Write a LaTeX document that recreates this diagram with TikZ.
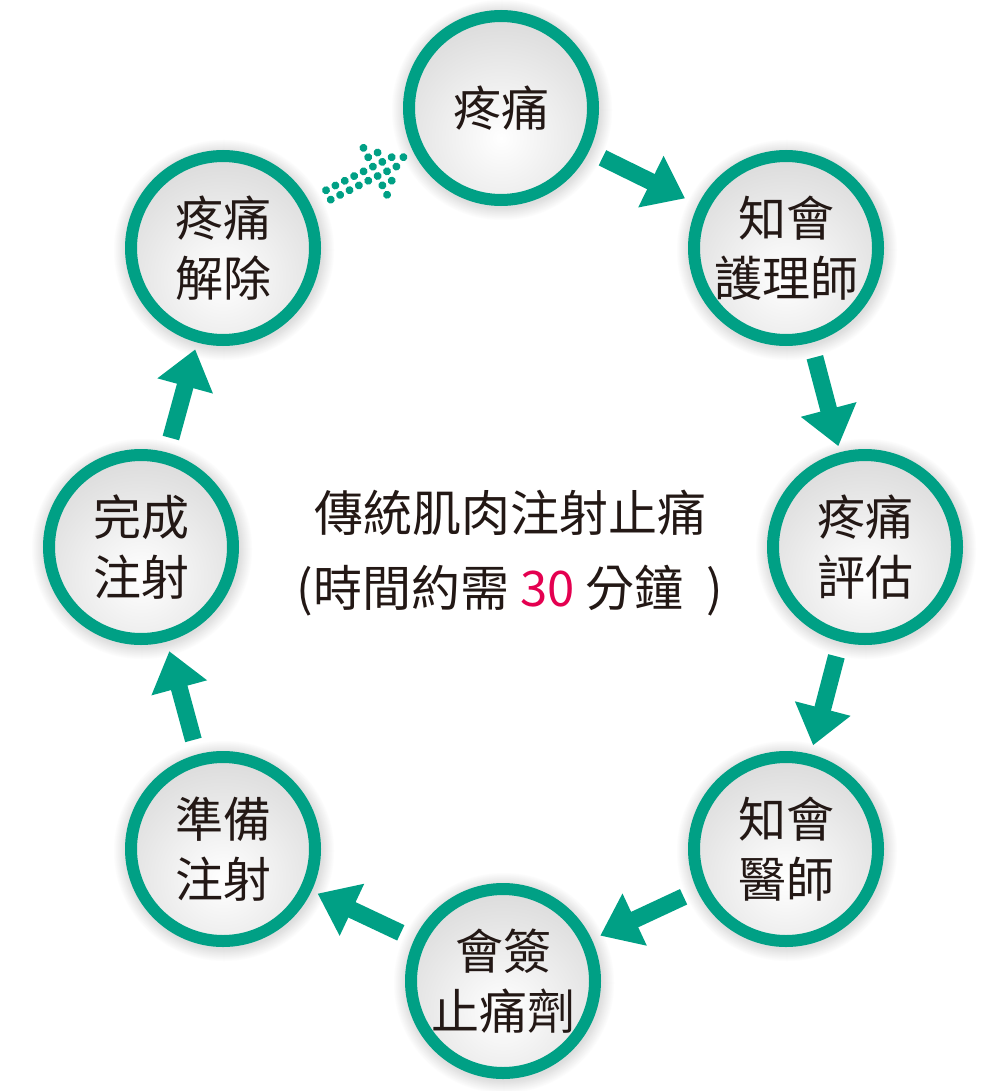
\documentclass[tikz,border=0pt]{standalone}
\usepackage{fontspec}
\setmainfont{Noto Sans CJK TC}
\usetikzlibrary{arrows.meta,calc}
\definecolor{ringgreen}{RGB}{0,160,133}
\definecolor{txt}{RGB}{35,24,21}
\definecolor{accent}{RGB}{228,0,80}
\tikzset{
  stepcircle/.style={circle, minimum size=184pt, inner sep=0pt, draw=ringgreen,
    line width=12pt, text=txt, align=center,
    font=\fontsize{48}{60}\selectfont,
    path picture={\shade[inner color=white, outer color=black!15]
      ($(path picture bounding box.center)+(0,30)$) circle (130);}},
  flowarrow/.style={draw=ringgreen, line width=17pt, -{Triangle[width=55pt,length=38pt]}},
  dotmark/.style={fill=ringgreen},
  centertext/.style={text=txt, align=center, font=\fontsize{49}{75}\selectfont},
}
\begin{document}
\begin{tikzpicture}[x=1pt,y=-1pt]
\useasboundingbox (0,0) rectangle (1005,1091);
\coordinate (p1) at (501,108);
\coordinate (p2) at (786,248);
\coordinate (p3) at (865,547);
\coordinate (p4) at (786,849);
\coordinate (p5) at (503,981);
\coordinate (p6) at (223,849);
\coordinate (p7) at (141,547);
\coordinate (p8) at (223,248);
\foreach \p in {p1,p2,p3,p4,p5,p6,p7,p8}
  \foreach \k [evaluate=\k as \amt using 1.1*\k, evaluate=\k as \rad using 111-\k] in {0,...,13}
    \fill[black!\amt] ($(\p)+(1,2)$) circle (\rad);
\node[stepcircle] (c1) at (p1) {疼痛};
\node[stepcircle] (c2) at (p2) {知會\\護理師};
\node[stepcircle] (c3) at (p3) {疼痛\\評估};
\node[stepcircle] (c4) at (p4) {知會\\醫師};
\node[stepcircle] (c5) at (p5) {會簽\\止痛劑};
\node[stepcircle] (c6) at (p6) {準備\\注射};
\node[stepcircle] (c7) at (p7) {完成\\注射};
\node[stepcircle] (c8) at (p8) {疼痛\\解除};
\foreach \a/\b in {c1/c2,c2/c3,c3/c4,c4/c5,c5/c6,c6/c7,c7/c8}
  \draw[flowarrow] ($(\a.center)!113pt!(\b.center)$) -- ($(\a.center)!205pt!(\b.center)$);
\begin{scope}[shift={($(c8.center)!118pt!(c1.center)$)}, rotate=26.73]
  \foreach \u/\v in {0/-5.25,0/5.25,10.5/-5.25,10.5/5.25,21/-5.25,21/5.25,31.5/-5.25,31.5/5.25,42/-5.25,42/5.25,
    52.5/-26.25,52.5/-15.75,52.5/-5.25,52.5/5.25,52.5/15.75,52.5/26.25,
    63/-15.75,63/-5.25,63/5.25,63/15.75,73.5/-5.25,73.5/5.25,84/0}
    \fill[dotmark] (\u,\v) circle (4);
\end{scope}
\node[centertext] (title) at (510,553) {傳統肌肉注射止痛\\(時間約需 {\color{accent}30} 分鐘\hspace{0.25em} )};
\end{tikzpicture}
\end{document}
